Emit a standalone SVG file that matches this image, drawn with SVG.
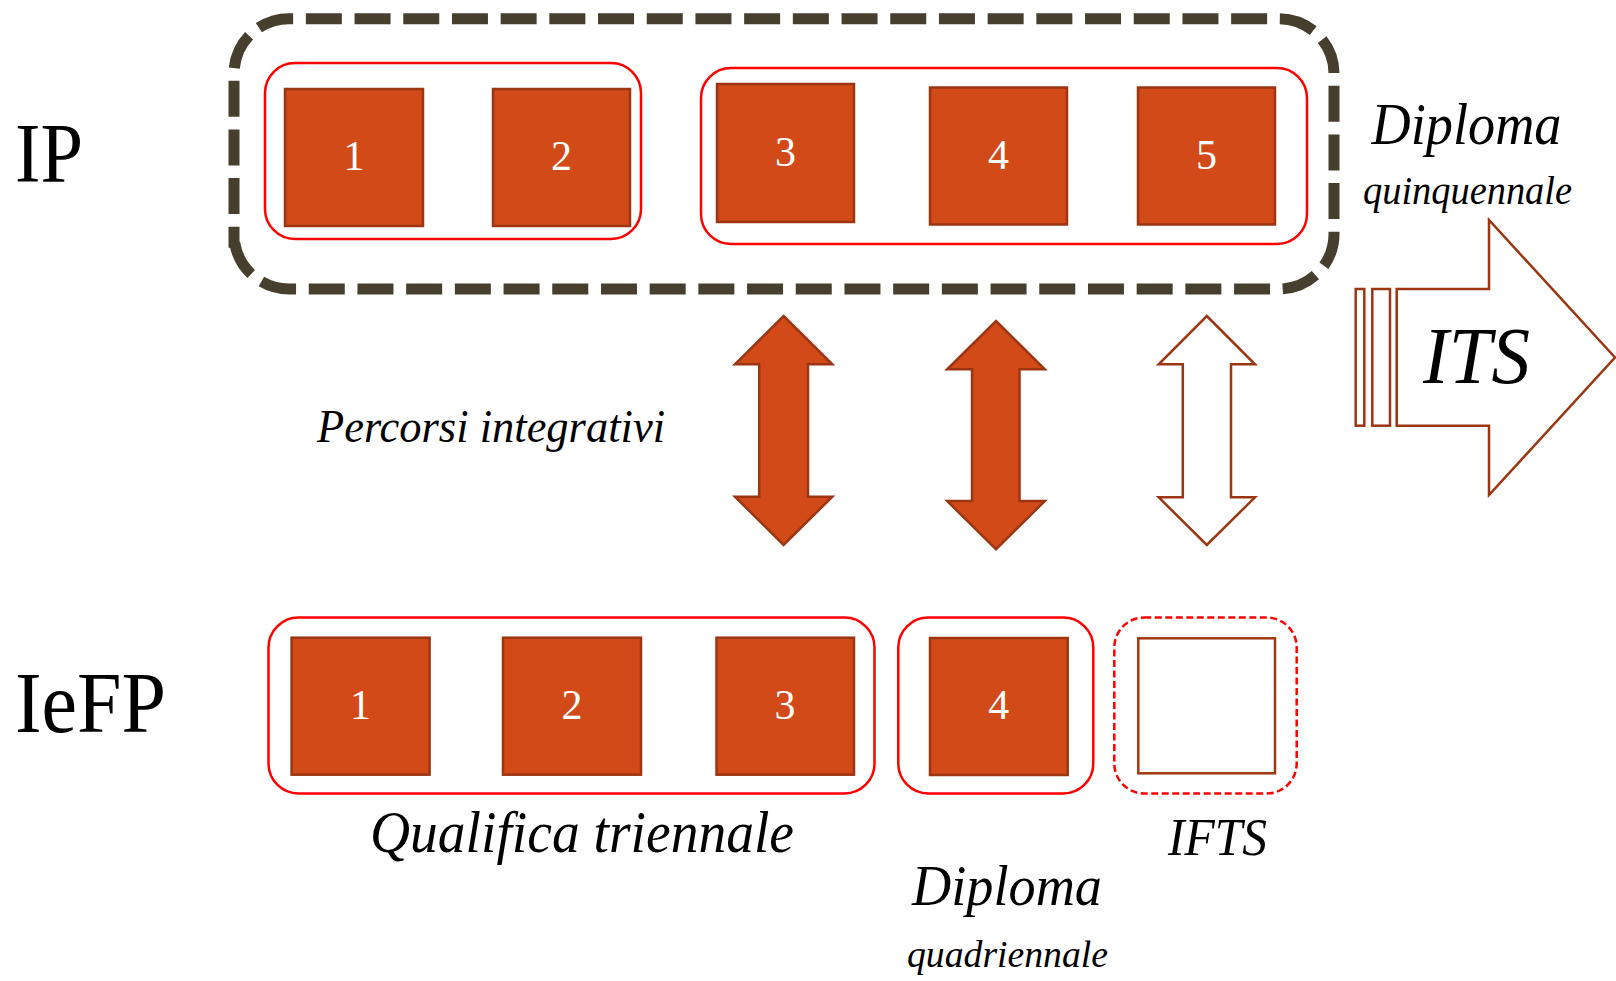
<svg xmlns="http://www.w3.org/2000/svg" width="1616" height="981" viewBox="0 0 1616 981">
<style>
.sq{fill:#D14A18;stroke:#9C3512;stroke-width:2.5}
.sqo{fill:#fff;stroke:#A0390F;stroke-width:2.5}
.grp{fill:none;stroke:#FF0000;stroke-width:2.5}
.grpd{fill:none;stroke:#FF0000;stroke-width:2.5;stroke-dasharray:7 3.5}
.num{font-family:"Liberation Serif",serif;font-size:42px;fill:#fff;text-anchor:middle}
.lbl{font-family:"Liberation Serif",serif;fill:#000}
.it{font-family:"Liberation Serif",serif;font-style:italic;fill:#000}
.arr{fill:#D14A18;stroke:#9C3512;stroke-width:2.5;stroke-linejoin:miter}
.arro{fill:#fff;stroke:#9C3512;stroke-width:2.5}
</style>
<rect width="1616" height="981" fill="#fff"/>

<g id="ip-frame">
<path d="M234,247.7 V73.7 A55,55 0 0 1 289,18.7 H1279 A55,55 0 0 1 1334,73.7 V234 A55,55 0 0 1 1279,289 H289 A55,55 0 0 1 234,234 Z" fill="none" stroke="#463F2E" stroke-width="11" stroke-dasharray="36 12.7" stroke-dashoffset="15.1"/>
</g>

<g id="label-ip"><text class="lbl" x="15" y="182" font-size="84" textLength="68" lengthAdjust="spacingAndGlyphs">IP</text></g>
<g id="label-iefp"><text class="lbl" x="15" y="731.5" font-size="86" textLength="151" lengthAdjust="spacingAndGlyphs">IeFP</text></g>

<g id="ip-group-12"><rect class="grp" x="265" y="63" width="376" height="176" rx="30"/></g>
<g id="ip-group-345"><rect class="grp" x="701" y="68" width="606" height="176" rx="30"/></g>

<g id="ip-1"><rect class="sq" x="285" y="89" width="138" height="137"/><text class="num" x="354" y="170">1</text></g>
<g id="ip-2"><rect class="sq" x="493" y="89" width="137" height="137"/><text class="num" x="561.5" y="170">2</text></g>
<g id="ip-3"><rect class="sq" x="717" y="84" width="137" height="138"/><text class="num" x="785.5" y="166">3</text></g>
<g id="ip-4"><rect class="sq" x="930" y="87.5" width="137" height="137"/><text class="num" x="998.5" y="168.5">4</text></g>
<g id="ip-5"><rect class="sq" x="1138" y="87.5" width="137" height="137"/><text class="num" x="1206.5" y="169">5</text></g>

<g id="label-diploma-q">
<text class="it" x="1371.5" y="144" font-size="60" textLength="190" lengthAdjust="spacingAndGlyphs">Diploma</text>
<text class="it" x="1363" y="204" font-size="41" textLength="209" lengthAdjust="spacingAndGlyphs">quinquennale</text>
</g>

<g id="its">
<rect class="arro" x="1355.7" y="289" width="8.6" height="136.7"/>
<rect class="arro" x="1372.3" y="289" width="17.7" height="136.7"/>
<polygon class="arro" points="1396.7,289 1489,289 1489,220 1615,357.5 1489,495 1489,425.7 1396.7,425.7"/>
<text class="it" x="1423" y="383" font-size="80" textLength="107" lengthAdjust="spacingAndGlyphs">ITS</text>
</g>

<g id="connectors">
<polygon class="arr" points="783.6,316 832.3,364.3 808,364.3 808,496.7 832.3,496.7 783.6,545 735,496.7 759.2,496.7 759.2,364.3 735,364.3"/>
<polygon class="arr" points="996,321 1044.8,369.3 1019.5,369.3 1019.5,501 1044.8,501 996,549.3 947.2,501 972,501 972,369.3 947.2,369.3"/>
<polygon class="arro" points="1206.8,316 1255,364.3 1231,364.3 1231,497.3 1255,497.3 1206.8,545 1158.7,497.3 1182.8,497.3 1182.8,364.3 1158.7,364.3"/>
</g>

<g id="label-percorsi"><text class="it" x="317" y="442" font-size="46" textLength="348" lengthAdjust="spacingAndGlyphs">Percorsi integrativi</text></g>

<g id="iefp-group-123"><rect class="grp" x="268.5" y="617.5" width="606" height="176" rx="30"/></g>
<g id="iefp-group-4"><rect class="grp" x="898.3" y="617.5" width="195" height="176" rx="30"/></g>
<g id="iefp-group-ifts"><rect class="grpd" x="1114.3" y="617.5" width="182.4" height="176" rx="30"/></g>

<g id="iefp-1"><rect class="sq" x="291.6" y="637.7" width="138" height="137"/><text class="num" x="360.6" y="719">1</text></g>
<g id="iefp-2"><rect class="sq" x="503" y="637.7" width="138" height="137"/><text class="num" x="572" y="719">2</text></g>
<g id="iefp-3"><rect class="sq" x="716.5" y="637.7" width="137.5" height="137"/><text class="num" x="785" y="719">3</text></g>
<g id="iefp-4"><rect class="sq" x="930" y="638" width="137.7" height="137"/><text class="num" x="998.8" y="719">4</text></g>
<g id="iefp-ifts"><rect class="sqo" x="1138.3" y="638.3" width="136.7" height="135"/></g>

<g id="label-qualifica"><text class="it" x="370" y="852" font-size="60" textLength="424" lengthAdjust="spacingAndGlyphs">Qualifica triennale</text></g>
<g id="label-ifts"><text class="it" x="1168" y="855" font-size="53" textLength="99" lengthAdjust="spacingAndGlyphs">IFTS</text></g>
<g id="label-diploma-4">
<text class="it" x="912" y="905" font-size="58" textLength="190" lengthAdjust="spacingAndGlyphs">Diploma</text>
<text class="it" x="907" y="967" font-size="38" textLength="201" lengthAdjust="spacingAndGlyphs">quadriennale</text>
</g>
</svg>
